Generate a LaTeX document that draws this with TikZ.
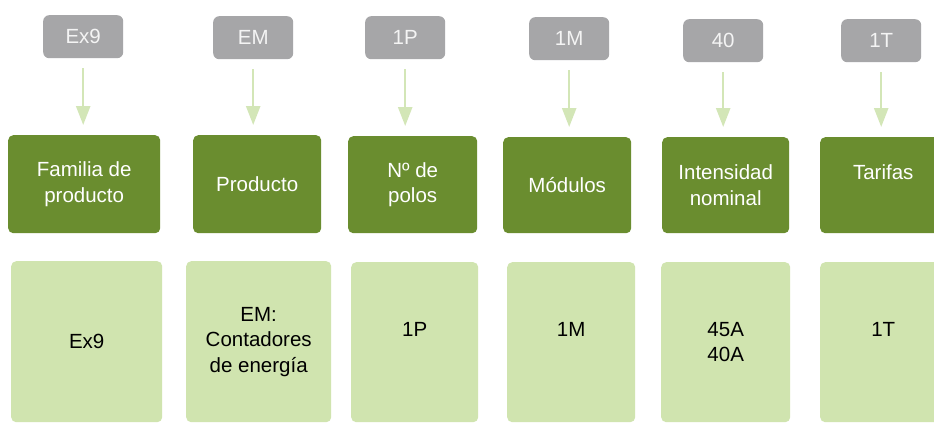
\documentclass[tikz,border=0pt]{standalone}
\usepackage{fontspec}
\setmainfont{Liberation Sans}
\usetikzlibrary{arrows.meta}
\definecolor{darkg}{HTML}{6A8D2F}
\definecolor{lightg}{HTML}{D0E4AF}
\definecolor{tabgray}{HTML}{A6A6A8}
\definecolor{arrowg}{HTML}{D3E6B7}
\definecolor{tabtext}{HTML}{F4F4F4}
\newcommand\myfs{\fontsize{20.5}{25.5}\selectfont}
\begin{document}
\begin{tikzpicture}[x=1pt,y=-1pt,
  tabbox/.style={fill=tabgray, rounded corners=6pt, minimum width=80pt, minimum height=43pt,
    inner sep=0pt, text=tabtext, anchor=north west, font=\myfs},
  darkbox/.style={fill=darkg, rounded corners=5pt, inner sep=0pt, text=white, align=center,
    anchor=north west, font=\myfs},
  lightbox/.style={fill=lightg, rounded corners=5pt, inner sep=0pt, text=black, align=center,
    anchor=north west, font=\myfs},
  arr/.style={draw=arrowg, line width=2.5pt, -{Triangle[length=19pt,width=14pt]}}]
\useasboundingbox (0,0) rectangle (934,423);
\clip (0,0) rectangle (934,423);
\fill[white] (0,0) rectangle (934,423);
% tabs
\node[tabbox] (tA) at (43,15) {Ex9};
\node[tabbox] (tB) at (213,16) {EM};
\node[tabbox] (tC) at (365,16) {1P};
\node[tabbox] (tD) at (529,17) {1M};
\node[tabbox] (tE) at (683,19) {40};
\node[tabbox] (tF) at (841,19) {1T};
% dark boxes
\node[darkbox, minimum width=152pt, minimum height=98pt] (dA) at (8,135) {Familia de\\producto};
\node[darkbox, minimum width=128pt, minimum height=98pt] (dB) at (193,135) {Producto};
\node[darkbox, minimum width=129pt, minimum height=97pt] (dC) at (348,136) {Nº de\\polos};
\node[darkbox, minimum width=128pt, minimum height=96pt] (dD) at (503,137) {Módulos};
\node[darkbox, minimum width=127pt, minimum height=96pt] (dE) at (662,137) {Intensidad\\nominal};
\node[darkbox, minimum width=126pt, minimum height=96pt] (dF) at (820,137) {Tarifas\\\mbox{}};
% light boxes
\node[lightbox, minimum width=151pt, minimum height=161pt] (lA) at (11,261) {Ex9};
\node[lightbox, minimum width=145pt, minimum height=161pt] (lB) at (186,261) {EM:\\Contadores\\de energía};
\node[lightbox, minimum width=127pt, minimum height=160pt] (lC) at (351,262) {1P\\\mbox{}};
\node[lightbox, minimum width=128pt, minimum height=160pt] (lD) at (507,262) {1M\\\mbox{}};
\node[lightbox, minimum width=129pt, minimum height=160pt] (lE) at (661,262) {45A\\40A};
\node[lightbox, minimum width=126pt, minimum height=160pt] (lF) at (820,262) {1T\\\mbox{}};
% arrows
\foreach \t/\d in {tA/dA,tB/dB,tC/dC,tD/dD,tE/dE,tF/dF}{
  \draw[arr] ([yshift=-10pt]\t.south) -- ([yshift=10pt]\t.south |- \d.north);
}
\end{tikzpicture}
\end{document}
